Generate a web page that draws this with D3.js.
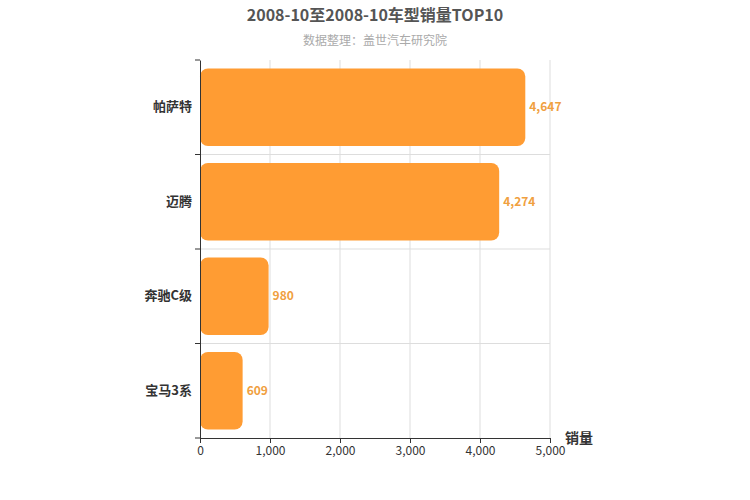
<!DOCTYPE html><html><head><meta charset="utf-8"><script src="https://cdn.jsdelivr.net/npm/d3@7"></script>
<style>body{margin:0;background:#fff}text{font-family:"Noto Sans CJK SC","Noto Sans",sans-serif}</style></head><body><svg id="c" width="750" height="500"></svg><script>
const categories=["帕萨特","迈腾","奔驰C级","宝马3系"];
const values=[4647,4274,980,609];
const xTicks=[0,1000,2000,3000,4000,5000];
const svg=d3.select("#c");
const L=200,R=550,T=60,B=438;
const x=d3.scaleLinear().domain([0,5000]).range([L,R]);
const y=d3.scaleBand().domain(categories).range([T,B]).paddingInner(0.18).paddingOuter(0.09);
const yb=d3.scaleBand().domain(categories).range([T,B]);
svg.append("text").attr("x",375).attr("y",21).attr("text-anchor","middle").attr("font-size",16).attr("font-weight","bold").attr("fill","#555").text("2008-10至2008-10车型销量TOP10");
svg.append("text").attr("x",375).attr("y",45).attr("text-anchor","middle").attr("font-size",12).attr("fill","#aaa").text("数据整理：盖世汽车研究院");
const g=svg.append("g");
xTicks.forEach(t=>{if(t>0)g.append("line").attr("x1",x(t)).attr("x2",x(t)).attr("y1",T).attr("y2",B).attr("stroke","#ddd");});
categories.forEach((c,i)=>{if(i>0)g.append("line").attr("x1",L).attr("x2",R).attr("y1",yb(c)).attr("y2",yb(c)).attr("stroke","#ddd");});
g.selectAll("rect.b").data(values).join("rect").attr("x",L).attr("y",(d,i)=>y(categories[i])).attr("width",d=>x(d)-L).attr("height",y.bandwidth()).attr("rx",8).attr("fill","#ff9c33");
g.selectAll("text.v").data(values).join("text").attr("x",d=>x(d)+4).attr("y",(d,i)=>y(categories[i])+y.bandwidth()/2+4).attr("font-size",12).attr("font-weight","bold").attr("fill","#f0a040").text(d=>d3.format(",")(d));
const ya=svg.append("g").attr("transform",`translate(${L},0)`).call(d3.axisLeft(yb).tickSize(0).tickPadding(8));
ya.select(".domain").attr("stroke","#333");
ya.selectAll("text").attr("font-size",13).attr("font-weight","bold").attr("fill","#333");
[...categories.map(c=>yb(c)),B].forEach(v=>svg.append("line").attr("x1",L-5).attr("x2",L).attr("y1",v).attr("y2",v).attr("stroke","#333"));
const xa=svg.append("g").attr("transform",`translate(0,${B})`).call(d3.axisBottom(x).tickValues(xTicks).tickFormat(d3.format(",")).tickSize(5));
xa.select(".domain").attr("stroke","#333");xa.selectAll("line").attr("stroke","#333");
xa.selectAll("text").attr("font-size",12).attr("fill","#333");
svg.append("text").attr("x",565).attr("y",443).attr("font-size",14).attr("font-weight","bold").attr("fill","#333").text("销量");
</script></body></html>
